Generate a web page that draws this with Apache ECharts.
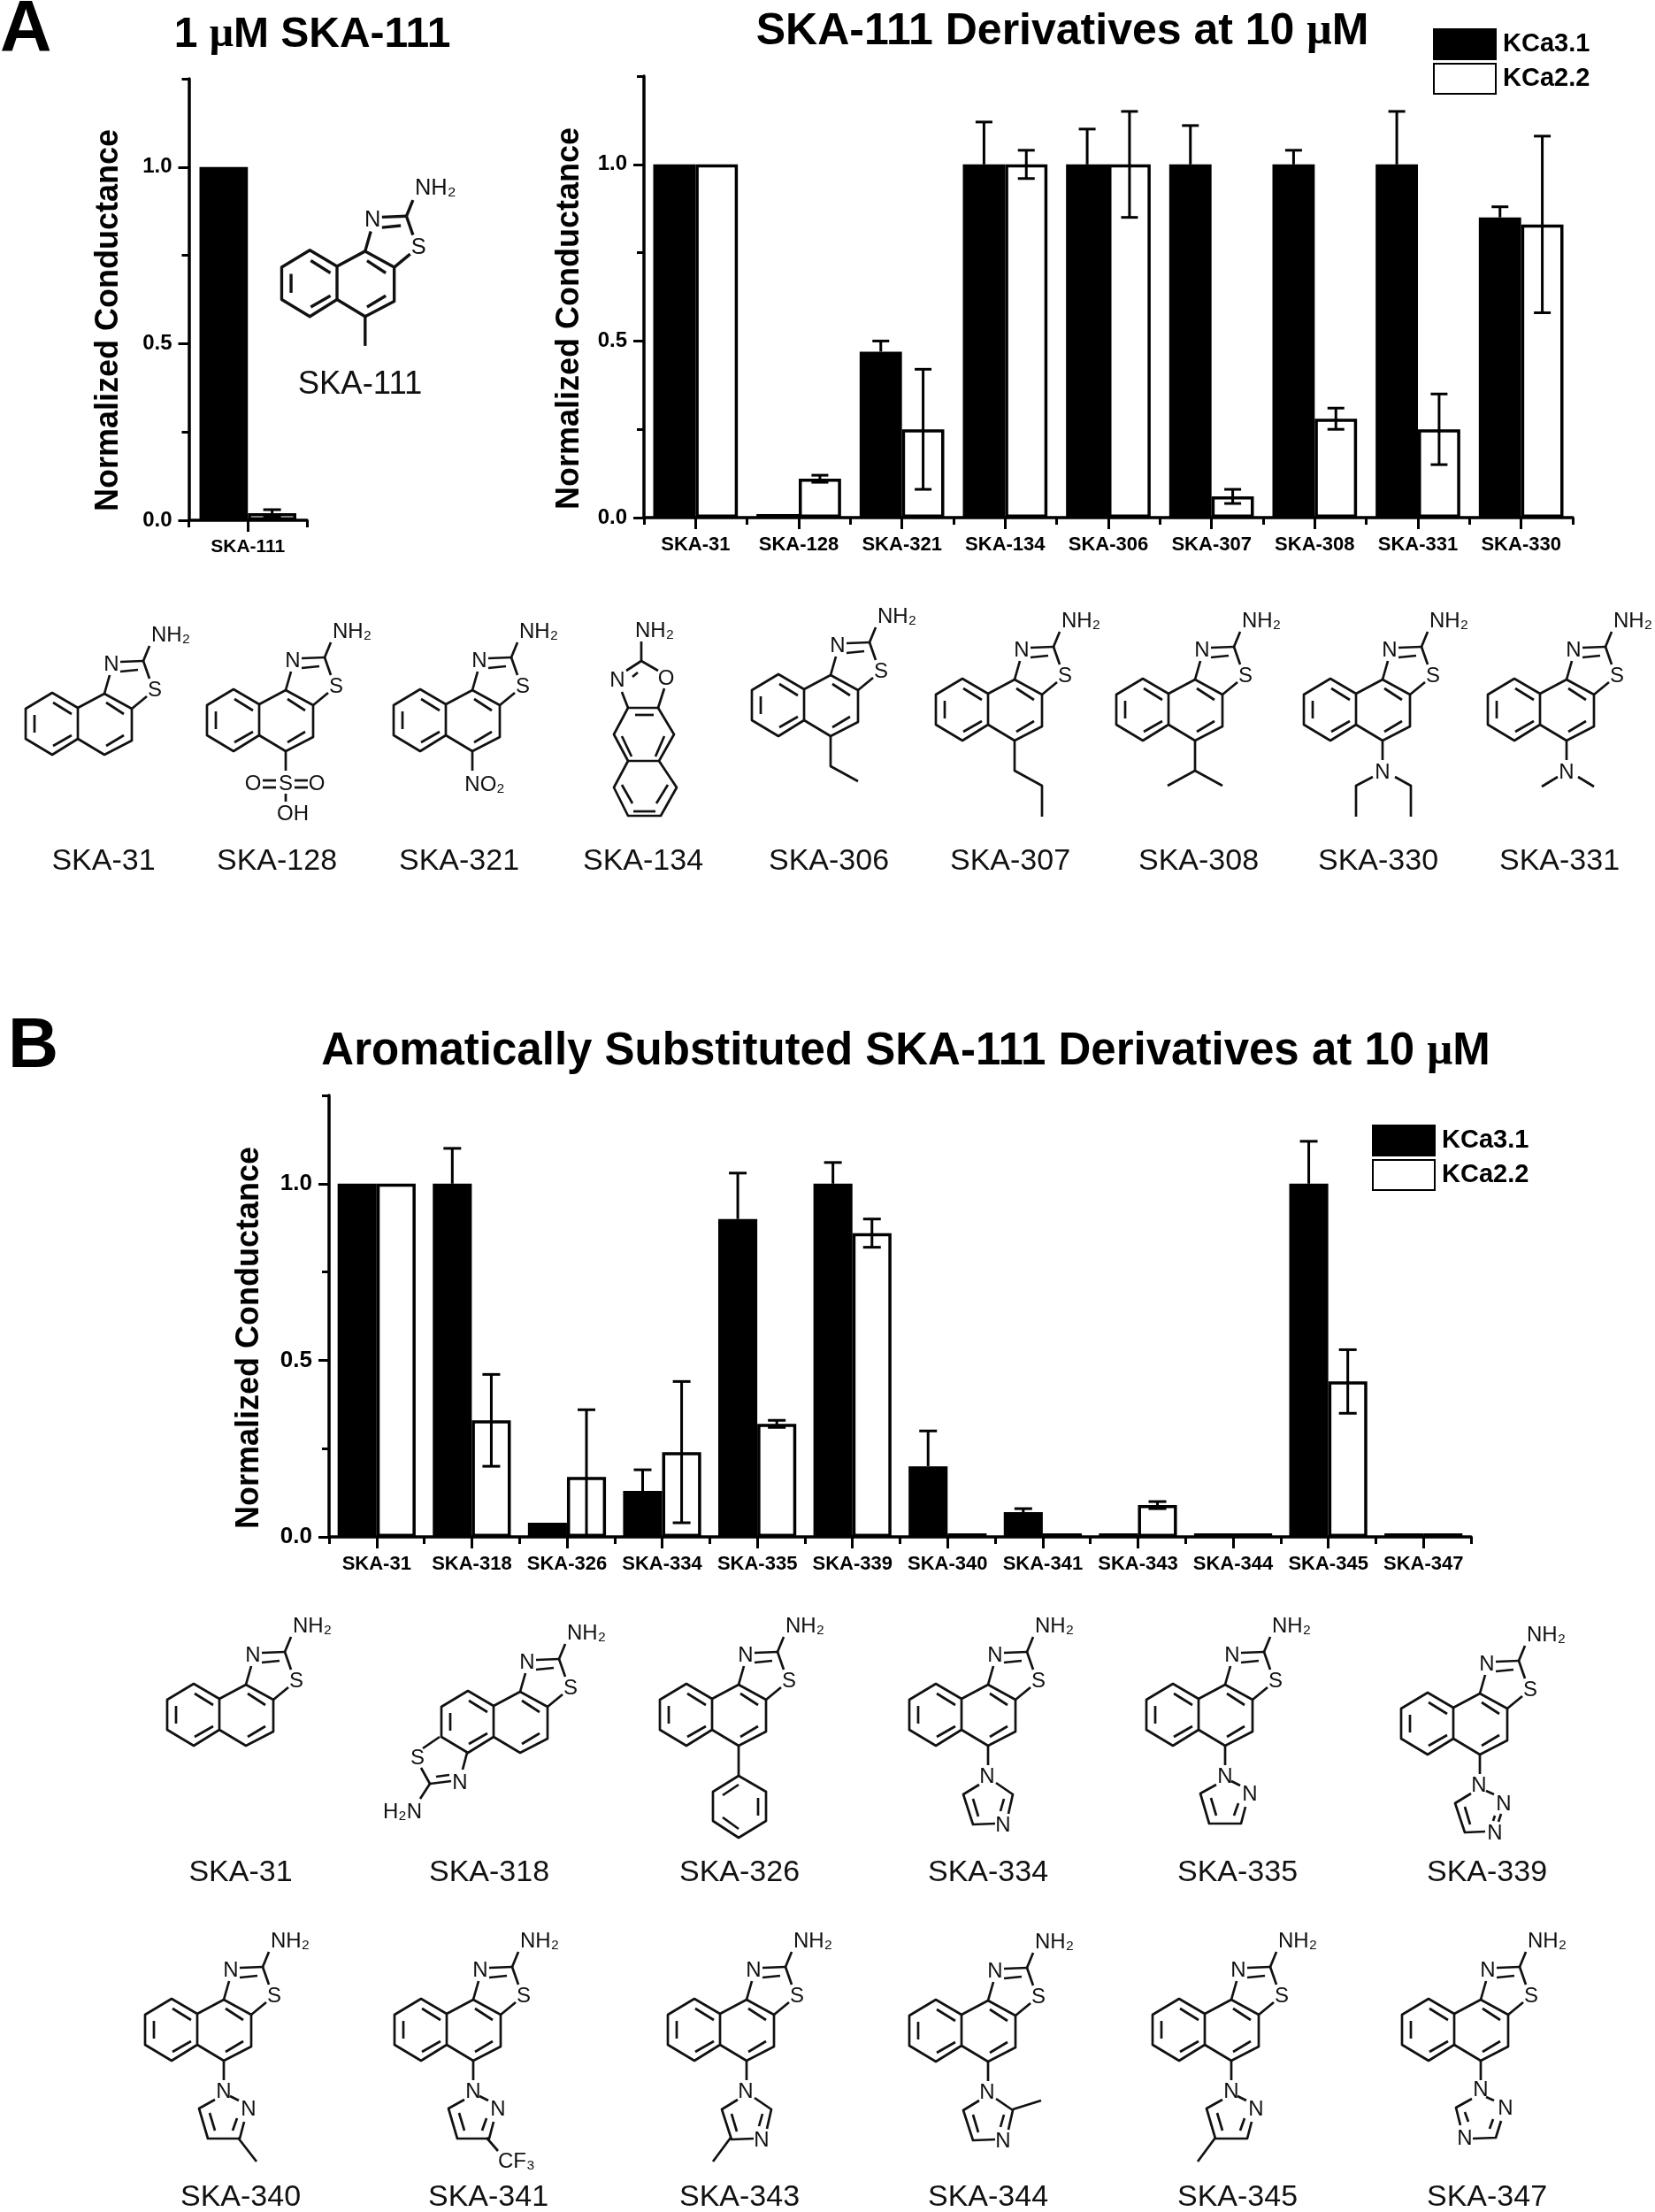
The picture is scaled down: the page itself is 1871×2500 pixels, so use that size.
<!DOCTYPE html>
<html><head><meta charset="utf-8">
<style>html,body{margin:0;padding:0;background:#fff}#c{width:1871px;height:2500px}</style>
<script src="https://cdn.jsdelivr.net/npm/echarts@6/dist/echarts.min.js"></script>
</head><body><div id="c"></div>
<script>
// ---------- chart data ----------
const seriesNames = ['KCa3.1', 'KCa2.2'];
const yTicks = [0, 0.5, 1];
const yMinorTicks = [0.25, 0.75, 1.25];

const catA1 = ['SKA-111'];
const a1KCa31 = [1];
const a1KCa22 = [0.02];
const a1ErrKCa31 = [0];
const a1ErrKCa22 = [0.01];

const catA2 = ['SKA-31','SKA-128','SKA-321','SKA-134','SKA-306','SKA-307','SKA-308','SKA-331','SKA-330'];
const a2KCa31 = [1,0.01,0.47,1,1,1,1,1,0.85];
const a2KCa22 = [1,0.11,0.25,1,1,0.06,0.28,0.25,0.83];
const a2ErrKCa31 = [0,0,0.03,0.12,0.10,0.11,0.04,0.15,0.03];
const a2ErrKCa22 = [0,0.01,0.17,0.04,0.15,0.02,0.03,0.10,0.25];

const catB = ['SKA-31','SKA-318','SKA-326','SKA-334','SKA-335','SKA-339','SKA-340','SKA-341','SKA-343','SKA-344','SKA-345','SKA-347'];
const bKCa31 = [1,1,0.04,0.13,0.90,1,0.20,0.07,0.01,0.01,1,0.01];
const bKCa22 = [1,0.33,0.17,0.24,0.32,0.86,0.01,0.01,0.09,0.01,0.44,0.01];
const bErrKCa31 = [0,0.10,0,0.06,0.13,0.06,0.10,0.01,0,0,0.12,0];
const bErrKCa22 = [0,0.13,0.19,0.20,0.01,0.04,0,0,0.01,0,0.09,0];

// ---------- chart layout ----------
const FONT = "'Liberation Sans'";
const panels = [
  {cats:catA1, v:[a1KCa31,a1KCa22], e:[a1ErrKCa31,a1ErrKCa22], grid:{left:213.5,top:89,width:133.5,height:499}, tick:24, cat:21, gap:72, pad:47, labelM:19, catM:20, lw:3.5, cap:10},
  {cats:catA2, v:[a2KCa31,a2KCa22], e:[a2ErrKCa31,a2ErrKCa22], grid:{left:728,top:86,width:1050,height:499}, tick:24, cat:22, gap:66, pad:49, labelM:19, catM:20, lw:3.5, cap:9.5},
  {cats:catB, v:[bKCa31,bKCa22], e:[bErrKCa31,bErrKCa22], grid:{left:372,top:1238,width:1291,height:499}, tick:26, cat:22, gap:72, pad:49, labelM:19, catM:20, lw:3.5, cap:10}
];
const BAR = 0.41;

const grid=[], xAxis=[], yAxis=[], series=[];
panels.forEach((p,i)=>{
  grid.push(p.grid);
  const line={lineStyle:{color:'#000',width:p.lw}};
  xAxis.push({type:'category',gridIndex:i,data:p.cats,axisLine:{show:true,...line},
    axisTick:{show:true,alignWithLabel:true,length:13,lineStyle:{color:'#000',width:3}},
    axisLabel:{interval:0,margin:p.catM,color:'#000',fontFamily:FONT,fontWeight:'bold',fontSize:p.cat},splitLine:{show:false}});
  xAxis.push({type:'category',gridIndex:i,position:'bottom',data:p.cats,axisLine:{show:false},
    axisTick:{show:true,alignWithLabel:false,length:8,lineStyle:{color:'#000',width:3}},
    axisLabel:{show:false},splitLine:{show:false}});
  yAxis.push({type:'value',gridIndex:i,min:0,max:1.25,
    name:'Normalized Conductance',nameLocation:'middle',nameGap:p.gap,nameMoveOverlap:false,
    nameTextStyle:{color:'#000',fontFamily:FONT,fontWeight:'bold',fontSize:36,padding:[0,p.pad,0,0]},
    axisLine:{show:true,...line},
    axisTick:{show:true,customValues:yTicks,length:12,lineStyle:{color:'#000',width:3}},
    axisLabel:{customValues:yTicks,margin:p.labelM,color:'#000',fontFamily:FONT,fontWeight:'bold',fontSize:p.tick,formatter:v=>v.toFixed(1)},
    splitLine:{show:false}});
  yAxis.push({type:'value',gridIndex:i,min:0,max:1.25,position:'left',
    axisLine:{show:false},
    axisTick:{show:true,customValues:yMinorTicks,length:8,lineStyle:{color:'#000',width:3}},
    axisLabel:{show:false},splitLine:{show:false}});
  seriesNames.forEach((n,s)=>{
    const black=s===0;
    series.push({type:'bar',name:n,xAxisIndex:2*i,yAxisIndex:2*i,data:p.v[s],barWidth:(BAR*100)+'%',barGap:0,z:2,
      itemStyle:{color:black?'#000':'#fff',borderColor:'#000',borderWidth:3.5},emphasis:{disabled:true}});
  });
  seriesNames.forEach((n,s)=>{
    series.push({type:'custom',name:n+' error',xAxisIndex:2*i,yAxisIndex:2*i,z:5,silent:true,clip:false,
      data:p.cats.map((c,k)=>[k,p.v[s][k],p.e[s][k]]),
      encode:{x:0,y:1},
      renderItem:(params,api)=>{
        const k=api.value(0),m=api.value(1),e=api.value(2);
        if(!e) return {type:'group',children:[]};
        const bw=api.size([1,0])[0]*BAR, off=(s===0?-1:1)*bw/2;
        const cx=api.coord([k,m])[0]+off, hi=m+e, lo=s===0?m:Math.max(0,m-e);
        const yh=api.coord([k,hi])[1], yl=api.coord([k,lo])[1];
        const st={stroke:'#000',lineWidth:3,fill:null};
        const ch=[{type:'line',shape:{x1:cx,y1:yh,x2:cx,y2:yl},style:st},
                  {type:'line',shape:{x1:cx-p.cap,y1:yh,x2:cx+p.cap,y2:yh},style:st}];
        if(s===1 && m-e>0) ch.push({type:'line',shape:{x1:cx-p.cap,y1:yl,x2:cx+p.cap,y2:yl},style:st});
        return {type:'group',children:ch};
      }});
  });
});

function titleOf(parts,cx,top,size){
  return {left:cx,top:top,textAlign:'center',padding:0,
    text:parts,
    textStyle:{color:'#000',fontFamily:FONT,fontWeight:'bold',fontSize:size,
      rich:{b:{color:'#000',fontFamily:FONT,fontWeight:'bold',fontSize:size},
            m:{color:'#000',fontFamily:"'Liberation Serif'",fontWeight:'bold',fontSize:size}}}};
}
const title=[
  titleOf('{b|1 }{m|μ}{b|M SKA-111}',353,16,48),
  titleOf('{b|SKA-111 Derivatives at 10 }{m|μ}{b|M}',1201,11,50),
  titleOf('{b|Aromatically Substituted SKA-111 Derivatives at 10 }{m|μ}{b|M}',1024,1163,51),
  {left:0,top:-6,padding:0,text:'A',textStyle:{color:'#000',fontFamily:FONT,fontWeight:'bold',fontSize:81}},
  {left:9,top:1145,padding:0,text:'B',textStyle:{color:'#000',fontFamily:FONT,fontWeight:'bold',fontSize:79}}
];
const legendOf=(left,top)=>({left,top,orient:'vertical',padding:0,itemGap:3,itemWidth:70,itemHeight:34,selectedMode:false,icon:'rect',
  data:seriesNames,textStyle:{color:'#000',fontFamily:FONT,fontWeight:'bold',fontSize:29,padding:[0,0,0,3]}});
const legend=[legendOf(1620,32),legendOf(1551,1271)];

// ---------- chemical structure drawings ----------
const BASE=[
 [[0,0],[-29,-17],[-59,1],[-59,35],[-29,53],[0,35],[0,0]],
 [[0,0],[30,-16],[61,1],[61,37],[30,53],[0,35]],
 [[-49,8],[-49,28]],[[-28,-6],[-7,7]],[[-28,43],[-7,31]],[[32,-6],[52,7]],[[32,43],[52,31]],
 [[30,-16],[36,-37]],[[48,-52],[74,-53]],[[48,-41],[68,-43]],[[74,-53],[81,-33]],[[61,1],[78,-13]],[[74,-53],[81,-70]]];
const BASE_T=[['N',38,-49],['S',87,-20],['NH₂',83,-82,'left']];
const STEM=[[[30,53],[30,75]]];
const PYR=[...STEM,[[20,97],[2,107],[12,141],[48,141],[53,122]],[[14,112],[20,132]],[[45,118],[40,132]],[[37,93],[47,98]]];
const PYR_T=[['N',30,88],['N',58,108]];
const IMI=[...STEM,[[20,97],[2,108],[13,142],[38,141]],[[39,95],[58,108],[53,130]],[[13,113],[19,133]],[[48,113],[44,127]]];
const IMI_T=[['N',29,88],['N',47,143]];
const ALK=[[30,53],[30,87]];
const mols=[
 // panel A
 {x:381,y:301,sx:1.06,sy:1.07,lw:3.2,l:[[[30,53],[30,84]]],t:[]},
 {x:88,y:800,l:[],t:[]},
 {x:293,y:796,l:[[[30,53],[30,75]],[[30,101],[30,110]],[[4,86],[19,86]],[[4,94],[19,94]],[[40,86],[55,86]],[[40,94],[55,94]]],
  t:[['O',-7,90],['S',30,90],['O',65,90],['OH',38,124]]},
 {x:504,y:796,l:[[[30,53],[30,75]]],t:[['NO₂',44,91]]},
 {x:725,y:800,base:false,l:[[[0,-75],[0,-53]],[[-17,-42],[0,-53],[19,-42]],[[-10,-35],[-4,-40]],[[-22,-18],[-15,0]],[[26,-22],[19,0]],
   [[-15,0],[19,0]],[[-7,8],[14,8]],[[-15,0],[-31,30],[-15,60],[20,60],[37,30],[19,0]],
   [[-15,60],[-31,90],[-15,122],[22,122],[40,90],[20,60]],[[-22,32],[-11,55]],[[26,32],[16,55]],[[-22,87],[-10,108]],[[30,87],[17,108]],[[-9,117],[16,117]]],
  t:[['NH₂',-7,-87,'left'],['N',-27,-31],['O',28,-33]]},
 {x:909,y:779,l:[[ALK[0],ALK[1],[61,104]]],t:[]},
 {x:1117,y:784,l:[[ALK[0],ALK[1],[61,104],[61,139]]],t:[]},
 {x:1321,y:784,l:[[ALK[0],ALK[1],[61,104]],[ALK[1],[-1,104]]],t:[]},
 {x:1533,y:784,l:[[[30,53],[30,75]],[[19,94],[0,104],[0,139]],[[44,94],[62,104],[62,139]]],t:[['N',30,89]]},
 {x:1741,y:784,l:[[[30,53],[30,75]],[[20,94],[2,105]],[[43,94],[61,105]]],t:[['N',30,89]]},
 // panel B, upper row
 {x:248,y:1920,l:[],t:[]},
 {x:558,y:1928,l:[[[-61,35],[-80,48]],[[-30,53],[-35,72]],[[-82,70],[-72,88],[-48,85]],[[-65,80],[-50,78]],[[-72,88],[-83,105]]],
  t:[['S',-86,59],['N',-38,87],['H₂N',-103,120]]},
 {x:805,y:1920,l:[[[30,53],[30,87]],[[30,87],[1,105],[1,138],[30,157],[61,138],[61,105],[30,87]],[[12,109],[30,97]],[[52,112],[52,132]],[[12,134],[30,147]]],t:[]},
 {x:1087,y:1920,l:IMI,t:IMI_T},
 {x:1355,y:1920,l:PYR,t:PYR_T},
 {x:1643,y:1930,l:[...STEM,[[20,97],[2,108],[13,141],[36,140]],[[13,112],[19,132]],[[37,94],[46,98]],[[54,120],[51,129]],[[47,122],[45,128]]],t:[['N',29,88],['N',57,109],['N',47,142]]},
 // panel B, lower row
 {x:223,y:2276,l:[...PYR,[[46,140],[67,167]]],t:PYR_T},
 {x:505,y:2276,l:[...PYR,[[45,140],[58,155]]],t:[...PYR_T,['CF₃',58,167,'left']]},
 {x:814,y:2276,l:[...IMI,[[12,140],[-8,167]]],t:IMI_T},
 {x:1087,y:2277,l:[...IMI,[[58,107],[90,97]]],t:IMI_T},
 {x:1362,y:2276,l:[...PYR,[[12,140],[-8,167]]],t:PYR_T},
 {x:1644,y:2276,l:[...STEM,[[20,96],[2,106],[7,126]],[[21,141],[47,140],[53,121]],[[12,111],[16,122]],[[44,119],[40,130]],[[36,94],[45,98]]],t:[['N',30,86],['N',12,141],['N',58,107]]}
];
const molLabels=[
 ['SKA-111',407,435,36.5],
 ['SKA-31',117,974],['SKA-128',313,974],['SKA-321',519,974],['SKA-134',727,974],['SKA-306',937,974],['SKA-307',1142,974],['SKA-308',1355,974],['SKA-330',1558,974],['SKA-331',1763,974],
 ['SKA-31',272,2117],['SKA-318',553,2117],['SKA-326',836,2117],['SKA-334',1117,2117],['SKA-335',1399,2117],['SKA-339',1681,2117],
 ['SKA-340',272,2484],['SKA-341',552,2484],['SKA-343',836,2484],['SKA-344',1117,2484],['SKA-345',1399,2484],['SKA-347',1681,2484]
];
const elements=[];
mols.forEach(m=>{
  const lines=(m.base===false?[]:BASE).concat(m.l), texts=(m.base===false?[]:BASE_T).concat(m.t);
  const ch=lines.map(pts=>({type:'polyline',shape:{points:pts},style:{stroke:'#111',lineWidth:m.lw||2.7,fill:null,lineJoin:'round',lineCap:'butt'}}));
  texts.forEach(t=>ch.push({type:'text',x:t[1],y:t[2],style:{text:t[0],fill:'#111',fontFamily:FONT,fontSize:24,align:t[3]||'center',verticalAlign:'middle'}}));
  elements.push({type:'group',x:m.x,y:m.y,scaleX:m.sx||1,scaleY:m.sy||1,silent:true,children:ch});
});
molLabels.forEach(t=>elements.push({type:'text',x:t[1],y:t[2],silent:true,style:{text:t[0],fill:'#111',fontFamily:FONT,fontSize:t[3]||34,align:'center',verticalAlign:'middle'}}));

const chart=echarts.init(document.getElementById('c'),null,{renderer:'canvas'});
chart.setOption({animation:false,backgroundColor:'#fff',title,legend,grid,xAxis,yAxis,series,graphic:{elements},tooltip:{show:false}});
</script></body></html>
